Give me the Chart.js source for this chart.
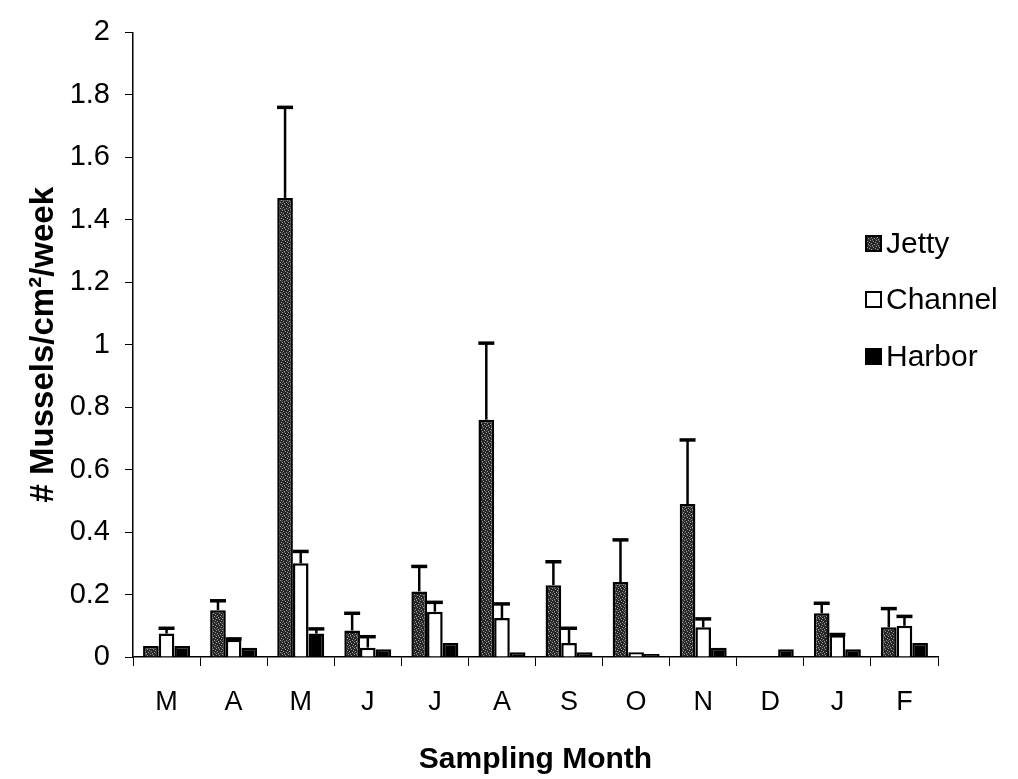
<!DOCTYPE html>
<html>
<head>
<meta charset="utf-8">
<script src="https://cdn.jsdelivr.net/npm/chart.js@4.4.1/dist/chart.umd.min.js"></script>
<style>
  html, body { margin: 0; padding: 0; background: #fff; }
  #wrap { width: 1018px; height: 779px; }
</style>
</head>
<body>
<div id="wrap"><canvas id="chart" width="1018" height="779"></canvas></div>
<script>
"use strict";

const months = ["M", "A", "M", "J", "J", "A", "S", "O", "N", "D", "J", "F"];
const seriesNames = ["Jetty", "Channel", "Harbor"];

// mean values per month
const jetty   = [0.035, 0.15, 1.47, 0.085, 0.21, 0.76, 0.23, 0.24, 0.49, 0.003, 0.14, 0.095];
const channel = [0.075, 0.055, 0.30, 0.03, 0.145, 0.125, 0.045, 0.015, 0.095, 0.002, 0.07, 0.10];
const harbor  = [0.035, 0.03, 0.075, 0.025, 0.045, 0.015, 0.015, 0.01, 0.03, 0.025, 0.025, 0.045];

// upper error (SE) per month
const jettyErr   = [0, 0.03, 0.29, 0.055, 0.08, 0.245, 0.075, 0.135, 0.205, 0, 0.032, 0.06];
const channelErr = [0.017, 0.003, 0.038, 0.035, 0.03, 0.045, 0.047, 0, 0.027, 0, 0.002, 0.03];
const harborErr  = [0, 0, 0.015, 0, 0, 0, 0, 0, 0, 0, 0, 0];

const yTicks = [0, 0.2, 0.4, 0.6, 0.8, 1, 1.2, 1.4, 1.6, 1.8, 2];

const FONT = "'Liberation Sans', Arial, sans-serif";

// stippled dark fill for the Jetty bars
function stipple() {
  const c = document.createElement("canvas");
  c.width = 6; c.height = 6;
  const g = c.getContext("2d");
  g.fillStyle = "#262626";
  g.fillRect(0, 0, 6, 6);
  g.fillStyle = "#9a9a9a";
  [[0, 0], [3, 1], [1, 3], [4, 4], [5, 2], [2, 5]].forEach(([x, y]) => g.fillRect(x, y, 1, 1));
  g.fillStyle = "#555";
  [[2, 0], [5, 5], [0, 4]].forEach(([x, y]) => g.fillRect(x, y, 1, 1));
  return g.createPattern(c, "repeat");
}
const jettyFill = stipple();

const errors = [jettyErr, channelErr, harborErr];

const errorBars = {
  id: "errorBars",
  afterDatasetsDraw(chart) {
    const ctx = chart.ctx;
    const y = chart.scales.y;
    ctx.save();
    ctx.strokeStyle = "#000";
    chart.data.datasets.forEach((ds, i) => {
      const meta = chart.getDatasetMeta(i);
      meta.data.forEach((bar, j) => {
        const e = errors[i][j];
        if (!e) return;
        const top = y.getPixelForValue(ds.data[j] + e);
        ctx.lineWidth = 2.5;
        ctx.beginPath();
        ctx.moveTo(bar.x, bar.y);
        ctx.lineTo(bar.x, top);
        ctx.stroke();
        ctx.lineWidth = 3.5;
        ctx.beginPath();
        ctx.moveTo(bar.x - 8, top);
        ctx.lineTo(bar.x + 8, top);
        ctx.stroke();
      });
    });
    ctx.restore();
  }
};

const sideLegend = {
  id: "sideLegend",
  afterDraw(chart) {
    const ctx = chart.ctx;
    const rows = [244, 300, 357];
    ctx.save();
    ctx.font = "30px " + FONT;
    ctx.textBaseline = "middle";
    chart.data.datasets.forEach((ds, i) => {
      const cy = rows[i];
      ctx.fillStyle = ds.backgroundColor;
      ctx.fillRect(866, cy - 8, 15, 15);
      ctx.strokeStyle = "#000";
      ctx.lineWidth = 2;
      ctx.strokeRect(866, cy - 8, 15, 15);
      ctx.fillStyle = "#000";
      ctx.fillText(ds.label, 886, cy + 1);
    });
    ctx.restore();
  }
};

new Chart(document.getElementById("chart"), {
  type: "bar",
  data: {
    labels: months,
    datasets: [
      { label: seriesNames[0], data: jetty, backgroundColor: jettyFill, borderColor: "#000", borderWidth: 2.5 },
      { label: seriesNames[1], data: channel, backgroundColor: "#fff", borderColor: "#000", borderWidth: 2.5 },
      { label: seriesNames[2], data: harbor, backgroundColor: "#000", borderColor: "#000", borderWidth: 2.5 },
    ],
  },
  options: {
    responsive: false,
    animation: false,
    events: [],
    layout: { padding: { top: 21, right: 80, left: 0, bottom: 0 } },
    datasets: { bar: { categoryPercentage: 0.7, barPercentage: 1.0 } },
    plugins: { legend: { display: false }, tooltip: { enabled: false } },
    scales: {
      x: {
        grid: { offset: true, drawOnChartArea: false, tickLength: 9, color: "#000", lineWidth: 1 },
        border: { color: "#000", width: 1.5 },
        ticks: { color: "#000", font: { family: FONT, size: 27 }, padding: 20, maxRotation: 0 },
        title: { display: true, text: "Sampling Month", color: "#000",
                 font: { family: FONT, size: 30, weight: "bold" }, padding: { top: 0, bottom: 1 } },
        afterFit(s) { s.height = 122; },
      },
      y: {
        min: 0, max: 2,
        afterBuildTicks(s) { s.ticks = yTicks.map((v) => ({ value: v })); },
        grid: { drawOnChartArea: false, tickLength: 8, color: "#000", lineWidth: 1 },
        border: { color: "#000", width: 1.5 },
        ticks: { color: "#000", font: { family: FONT, size: 29 }, padding: 15,
                 callback: (v) => String(+v.toFixed(1)) },
        title: { display: true, text: "# Mussels/cm²/week", color: "#000",
                 font: { family: FONT, size: 33, weight: "bold" }, padding: { top: 24, bottom: 0 } },
        afterFit(s) { s.width = 133; },
      },
    },
  },
  plugins: [errorBars, sideLegend],
});
</script>
</body>
</html>
